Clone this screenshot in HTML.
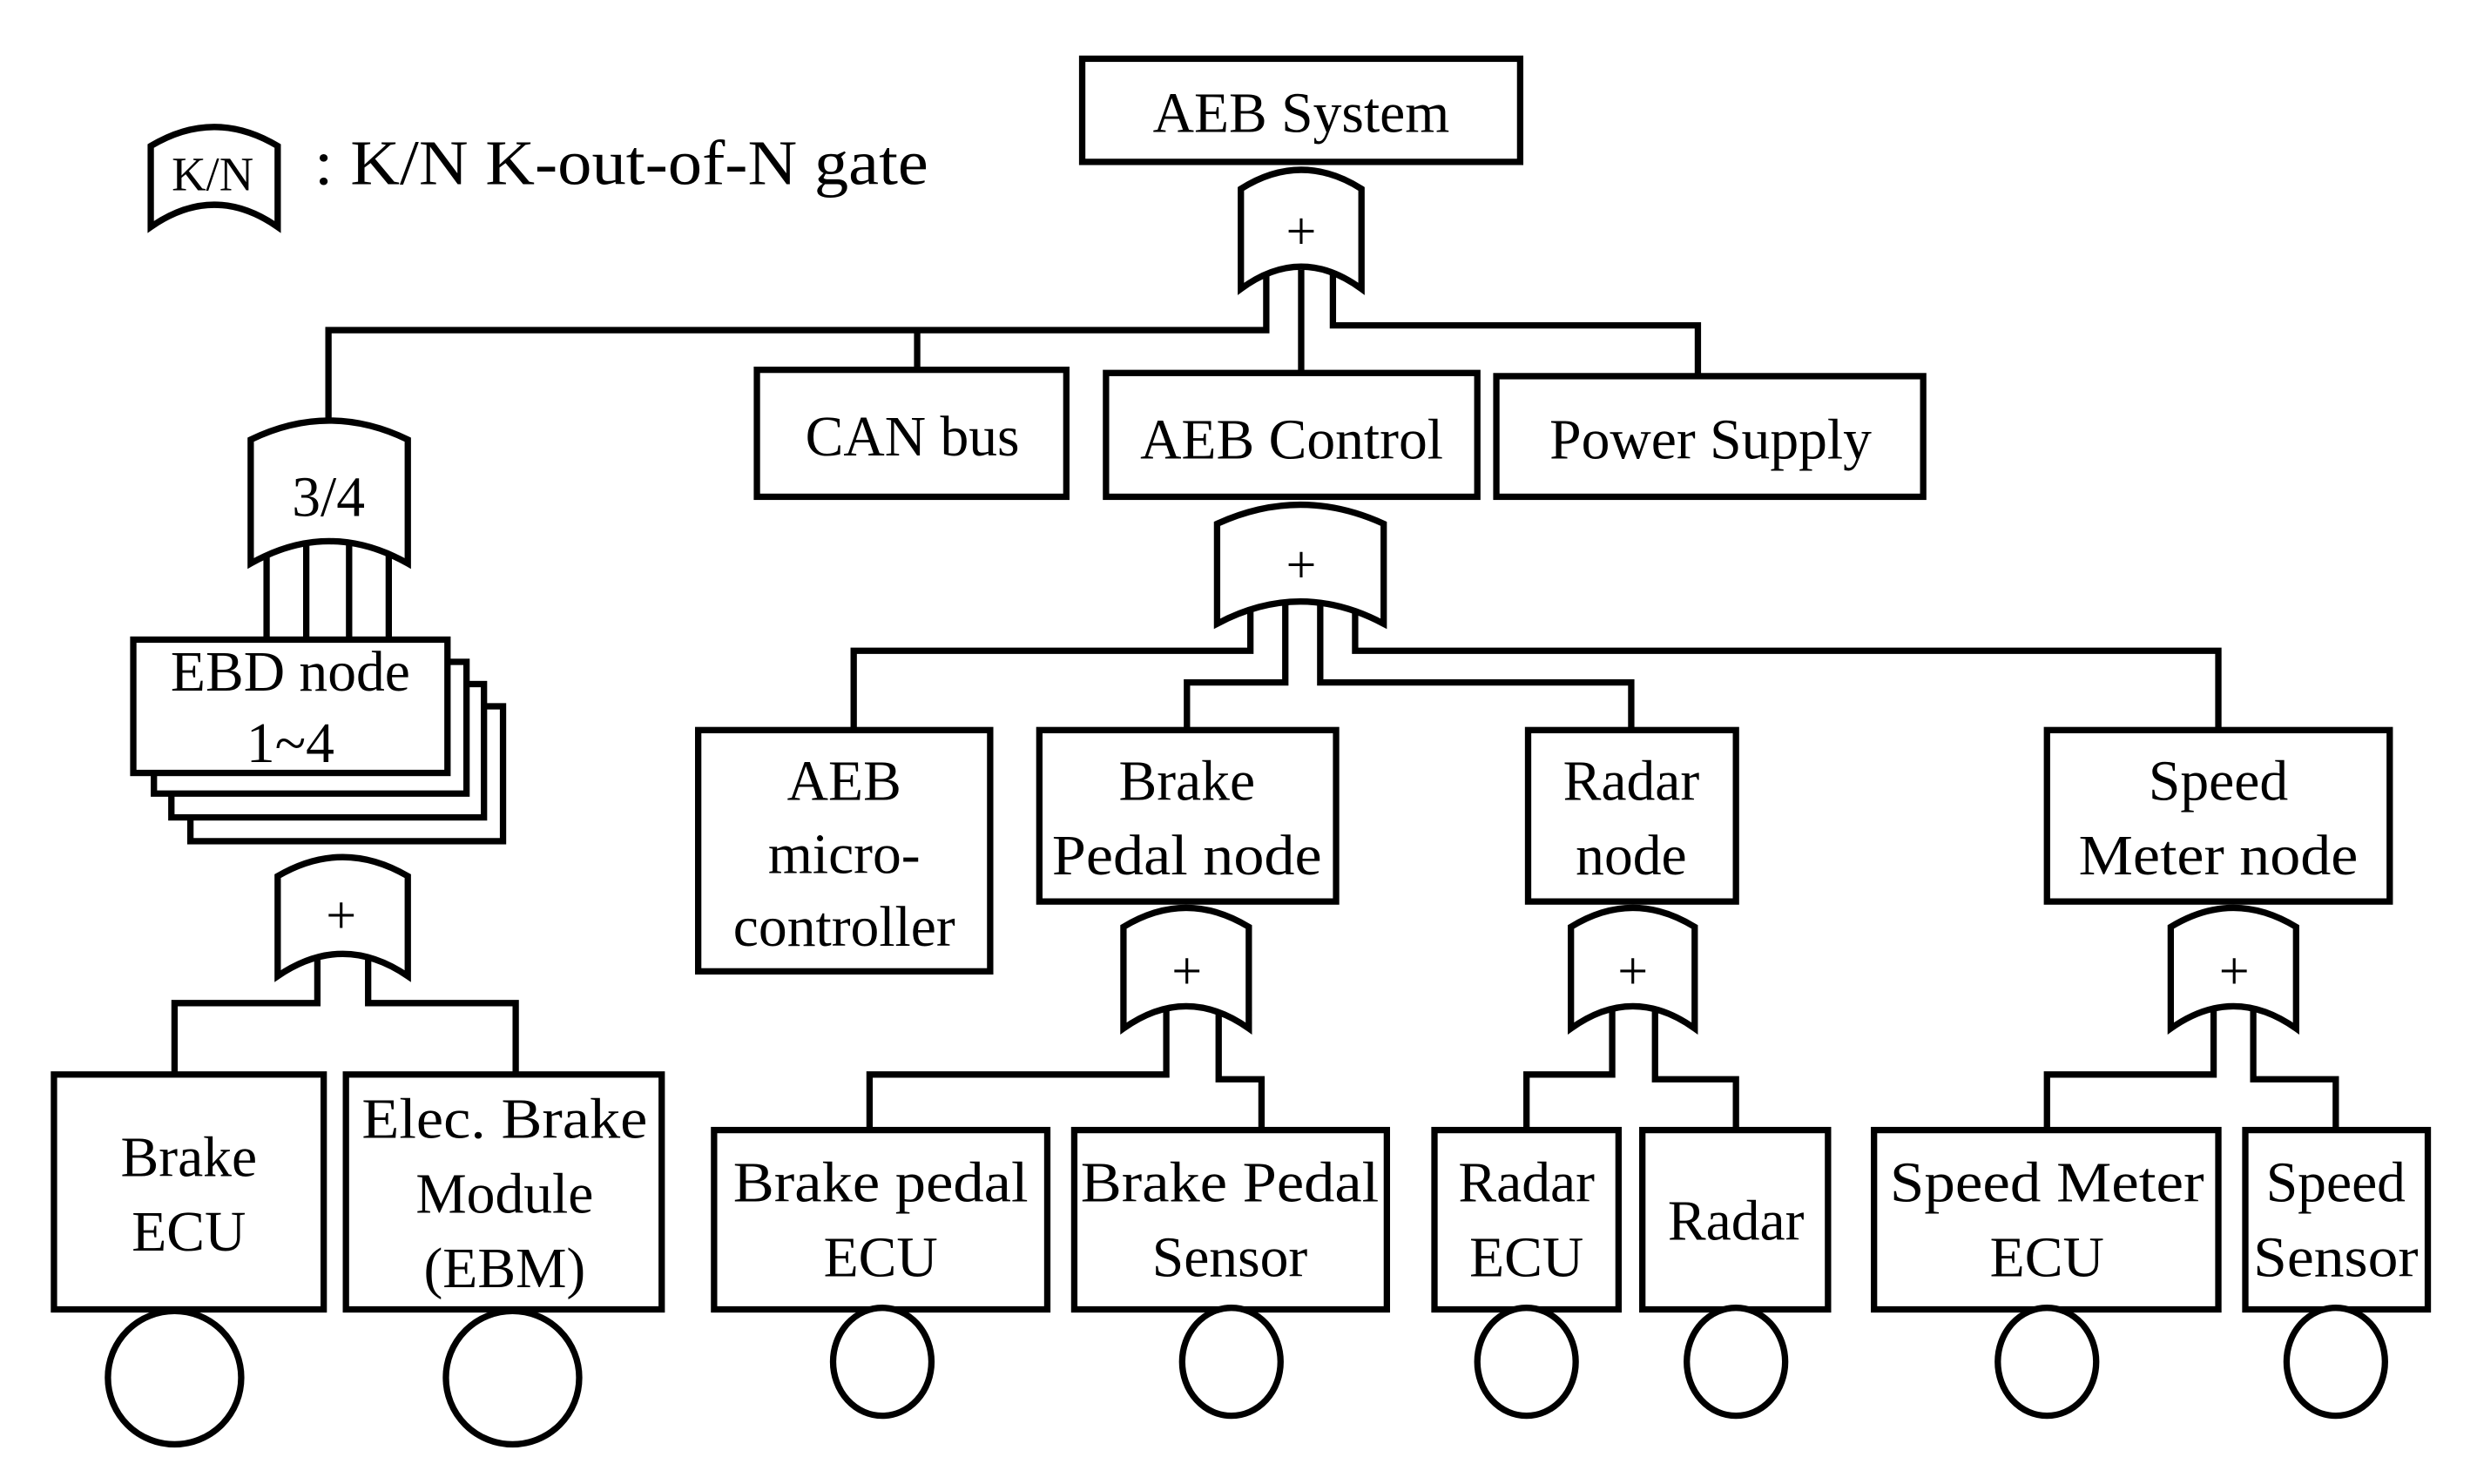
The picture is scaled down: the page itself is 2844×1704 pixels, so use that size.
<!DOCTYPE html>
<html><head><meta charset="utf-8"><style>html,body{margin:0;padding:0;background:#fff}svg{display:block}</style></head>
<body>
<svg width="2844" height="1704" viewBox="0 0 1561 935" preserveAspectRatio="none" xmlns="http://www.w3.org/2000/svg">
<g fill="none" stroke="#000" stroke-width="4" stroke-linejoin="miter">
<polyline points="798,170 798,208 207,208 207,268"/>
<polyline points="578,208 578,233"/>
<polyline points="820,170 820,235"/>
<polyline points="840,170 840,205 1070,205 1070,237"/>
<line x1="168" y1="340" x2="168" y2="403"/><line x1="193" y1="340" x2="193" y2="403"/>
<line x1="220" y1="340" x2="220" y2="403"/><line x1="245" y1="340" x2="245" y2="403"/>
<polyline points="200,600 200,632 110,632 110,677"/>
<polyline points="232,600 232,632 325,632 325,677"/>
<polyline points="788,380 788,410 538,410 538,460"/>
<polyline points="810,380 810,430 748,430 748,460"/>
<polyline points="832,380 832,430 1028,430 1028,460"/>
<polyline points="854,380 854,410 1398,410 1398,460"/>
<polyline points="735,635 735,677 548,677 548,712"/>
<polyline points="768,635 768,680 795,680 795,712"/>
<polyline points="1016,635 1016,677 962,677 962,712"/>
<polyline points="1043,635 1043,680 1094,680 1094,712"/>
<polyline points="1395,635 1395,677 1290,677 1290,712"/>
<polyline points="1420,635 1420,680 1472,680 1472,712"/>
</g>
<g fill="#fff" stroke="#000" stroke-width="4">
<path d="M95,143 L95,92 Q135,68 175,92 L175,143 Q135,115 95,143Z"/>
<path d="M782,182 L782,119 Q820,95 858,119 L858,182 Q820,154 782,182Z"/>
<path d="M158,355 L158,277 Q207.5,253 257,277 L257,355 Q207.5,327 158,355Z"/>
<path d="M175,615 L175,552 Q216,528 257,552 L257,615 Q216,587 175,615Z"/>
<path d="M767,393 L767,330 Q819.5,306 872,330 L872,393 Q819.5,365 767,393Z"/>
<path d="M708,648 L708,584 Q747.5,560 787,584 L787,648 Q747.5,620 708,648Z"/>
<path d="M990,648 L990,584 Q1029,560 1068,584 L1068,648 Q1029,620 990,648Z"/>
<path d="M1368,648 L1368,584 Q1407.5,560 1447,584 L1447,648 Q1407.5,620 1368,648Z"/>
<rect x="682" y="37" width="276" height="65"/>
<rect x="477" y="233" width="195" height="80"/>
<rect x="697" y="235" width="234" height="78"/>
<rect x="943" y="237" width="269" height="76"/>
<rect x="120" y="445" width="197" height="85"/>
<rect x="108" y="431" width="197" height="84"/>
<rect x="97" y="417" width="197" height="83"/>
<rect x="84" y="403" width="198" height="84"/>
<rect x="34" y="677" width="170" height="148"/>
<rect x="218" y="677" width="199" height="148"/>
<rect x="440" y="460" width="184" height="152"/>
<rect x="655" y="460" width="187" height="108"/>
<rect x="963" y="460" width="131" height="108"/>
<rect x="1290" y="460" width="216" height="108"/>
<rect x="450" y="712" width="210" height="113"/>
<rect x="677" y="712" width="197" height="113"/>
<rect x="904" y="712" width="116" height="113"/>
<rect x="1035" y="712" width="117" height="113"/>
<rect x="1181" y="712" width="217" height="113"/>
<rect x="1415" y="712" width="115" height="113"/>
<circle cx="110" cy="868" r="42"/>
<circle cx="323" cy="868" r="42"/>
<ellipse cx="556" cy="858" rx="31" ry="34"/>
<ellipse cx="776" cy="858" rx="31" ry="34"/>
<ellipse cx="962" cy="858" rx="31" ry="34"/>
<ellipse cx="1094" cy="858" rx="31" ry="34"/>
<ellipse cx="1290" cy="858" rx="31" ry="34"/>
<ellipse cx="1472" cy="858" rx="31" ry="34"/>
</g>
<g font-family="'Liberation Serif', serif" font-size="36" text-anchor="middle" fill="#000">
<text x="134" y="120" font-size="30">K/N</text>
<text x="198" y="116" text-anchor="start" font-size="40" textLength="387" lengthAdjust="spacingAndGlyphs">: K/N K-out-of-N gate</text>
<text x="820" y="83">AEB System</text>
<text x="820" y="157" font-size="34">+</text>
<text x="575" y="287">CAN bus</text>
<text x="814" y="289">AEB Control</text>
<text x="1078" y="289">Power Supply</text>
<text x="207" y="325">3/4</text>
<text x="183" y="435">EBD node</text>
<text x="183" y="480">1~4</text>
<text x="215" y="588" font-size="34">+</text>
<text x="119" y="741">Brake</text>
<text x="119" y="788">ECU</text>
<text x="318" y="717" textLength="180" lengthAdjust="spacingAndGlyphs">Elec. Brake</text>
<text x="318" y="764">Module</text>
<text x="318" y="811">(EBM)</text>
<text x="820" y="367" font-size="34">+</text>
<text x="532" y="504">AEB</text>
<text x="532" y="550">micro-</text>
<text x="532" y="596">controller</text>
<text x="748" y="504">Brake</text>
<text x="748" y="551" textLength="170" lengthAdjust="spacingAndGlyphs">Pedal node</text>
<text x="1028" y="504">Radar</text>
<text x="1028" y="551">node</text>
<text x="1398" y="504">Speed</text>
<text x="1398" y="551" textLength="176" lengthAdjust="spacingAndGlyphs">Meter node</text>
<text x="748" y="623" font-size="34">+</text>
<text x="1029" y="623" font-size="34">+</text>
<text x="1408" y="623" font-size="34">+</text>
<text x="555" y="757" textLength="186" lengthAdjust="spacingAndGlyphs">Brake pedal</text>
<text x="555" y="804">ECU</text>
<text x="775" y="757" textLength="188" lengthAdjust="spacingAndGlyphs">Brake Pedal</text>
<text x="775" y="804">Sensor</text>
<text x="962" y="757">Radar</text>
<text x="962" y="804">ECU</text>
<text x="1094" y="781">Radar</text>
<text x="1290" y="757" textLength="198" lengthAdjust="spacingAndGlyphs">Speed Meter</text>
<text x="1290" y="804">ECU</text>
<text x="1472" y="757">Speed</text>
<text x="1472" y="804" textLength="104" lengthAdjust="spacingAndGlyphs">Sensor</text>
</g>
</svg>
</body></html>
